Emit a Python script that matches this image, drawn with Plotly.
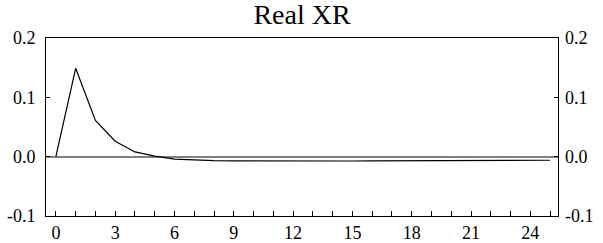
import plotly.graph_objects as go

periods = list(range(0, 26))
real_xr = [0.0, 0.149, 0.061, 0.026, 0.008, 0.001, -0.004, -0.006, -0.0068, -0.0072,
           -0.0074, -0.0075, -0.0075, -0.0075, -0.0074, -0.0073, -0.0072, -0.0071,
           -0.007, -0.007, -0.0069, -0.0068, -0.0067, -0.0066, -0.0063, -0.006]
x_ticks = list(range(0, 25, 3))
y_ticks = [-0.1, 0.0, 0.1, 0.2]
y_labels = ["-0.1", "0.0", "0.1", "0.2"]

serif = "Liberation Serif, Times New Roman, serif"
tick_font = dict(family=serif, size=18, color="black")

fig = go.Figure()
fig.add_trace(go.Scatter(x=periods, y=real_xr, mode="lines",
                         line=dict(color="black", width=1.2), showlegend=False,
                         hoverinfo="skip"))
fig.add_trace(go.Scatter(x=periods, y=real_xr, mode="lines", yaxis="y2",
                         line=dict(color="rgba(0,0,0,0)", width=0), showlegend=False,
                         hoverinfo="skip"))

fig.update_layout(
    width=603, height=243,
    margin=dict(l=46, r=45, t=38, b=27, autoexpand=False),
    paper_bgcolor="white", plot_bgcolor="white",
    font=dict(family=serif, size=18, color="black"),
    title=dict(text="Real XR", x=0.5, xanchor="center", xref="paper",
               y=1, yref="container", yanchor="top", pad=dict(t=4),
               font=dict(family=serif, size=28, color="black")),
    xaxis=dict(range=[-0.5, 25.4], tickvals=x_ticks, ticks="inside", ticklen=5,
               tickcolor="black", showgrid=False, zeroline=False, automargin=False,
               tickfont=tick_font, ticklabelstandoff=0,
               showline=True, linecolor="black", linewidth=1, mirror=True,
               minor=dict(dtick=1, ticks="inside", ticklen=5, tickcolor="black", showgrid=False)),
    yaxis=dict(range=[-0.1, 0.2], tickvals=y_ticks, ticktext=y_labels, ticks="inside",
               ticklen=4, tickcolor="black", showgrid=False, automargin=False,
               tickfont=tick_font, ticklabelstandoff=6,
               zeroline=True, zerolinecolor="#808080", zerolinewidth=2,
               showline=True, linecolor="black", linewidth=1, mirror=True),
    yaxis2=dict(range=[-0.1, 0.2], tickvals=y_ticks, ticktext=y_labels, ticks="inside",
                ticklen=4, tickcolor="black", showgrid=False, zeroline=False,
                automargin=False, tickfont=tick_font, ticklabelstandoff=6,
                overlaying="y", side="right", showline=False),
)

fig.write_html("out.html", config={"displayModeBar": False},
               post_script="document.body.style.margin='0';document.body.style.overflow='hidden';")
